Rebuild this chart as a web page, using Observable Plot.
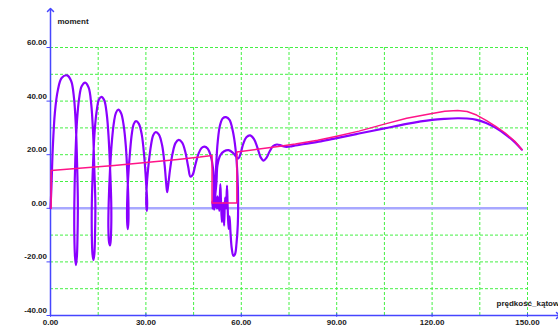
<!DOCTYPE html>
<html><head><meta charset="utf-8">
<script src="https://cdn.jsdelivr.net/npm/d3@7"></script>
<script src="https://cdn.jsdelivr.net/npm/@observablehq/plot@0.6"></script>
<style>body{margin:0;background:#fff}</style>
</head><body><div id="chart"></div>
<script>
// tick values
const xTicks = [0, 30, 60, 90, 120, 150];
const yTicks = [-40, -20, 0, 20, 40, 60];
const gridX = [15, 30, 45, 60, 75, 90, 105, 120, 135, 150];
const gridY = [-30, -20, -10, 10, 20, 30, 40, 50, 60];

// dynamic torque-speed trajectory (purple)
const purpleX = [0,0.3,0.7,1.4,2.3,3.5,5.2,6.5,7.4,8.0,8.4,8.6,8.5,8.3,8.0,7.7,7.5,7.5,7.8,8.3,9.0,9.8,10.9,
12.0,12.8,13.4,13.8,14.1,14.0,13.8,13.5,13.2,13.0,13.0,13.4,13.9,14.6,15.2,16.0,
16.9,17.7,18.3,18.8,19.1,19.1,18.9,18.7,18.4,18.2,18.3,18.7,19.3,20.0,20.6,21.3,
22.2,23.0,23.7,24.2,24.5,24.5,24.3,24.1,24.1,24.4,25.0,25.6,26.2,26.9,
27.8,28.7,29.5,30.1,30.4,30.3,30.1,30.3,30.9,31.6,32.3,33.1,
34.1,35.1,35.9,36.4,36.7,37.0,37.6,38.4,39.3,40.3,
41.4,42.4,43.3,44.0,44.7,45.6,46.6,47.5,48.4,49.4,50.4,51.1,51.4,51.2,
51.0,51.3,51.5,51.8,51.9,52.1,52.6,53.3,54.2,55.2,56.3,57.3,58.2,58.8,59.0,58.9,58.5,58.0,57.5,57.0,56.6,56.3,
56.0,55.7,55.5,55.2,54.9,54.6,54.3,53.9,53.6,53.4,53.1,52.9,52.7,52.5,52.3,52.1,51.9,51.7,51.5,51.3,51.1,50.9,51.2,51.8,52.2,
52.5,53.4,54.6,56.0,57.3,58.4,59.1,59.8,60.6,61.6,62.8,64.0,65.1,66.1,67.0,67.9,68.9,70.0,71.2,72.6,74.2,76.0,
80,85,90,97,105,112,120,124,128,131,134,137,140,143,146,148.2];
const purpleY = [0,8,22,36,44,48.6,49.6,47.5,41,30,15,2,-10,-18,-21.2,-18,-10,2,18,32,41,45.5,46.9,
45,39,28,14,2,-10,-17,-19.3,-17,-10,2,17,29,37,40.5,41.6,
40.3,35,26,13,2,-7,-12.5,-13.8,-12.5,-7,2,14,25,32.5,35.7,36.8,
35.5,31,23,12,2,-5,-7.8,-5,2,11,21,28,31.5,32.5,
31.5,27.5,19,9,2,-1.0,2,9,17,23.5,27.3,28.4,
27.5,23.5,16,9,6.0,8.5,14.5,20.5,24.3,25.5,
24.5,21,15.5,11.8,12.5,16.5,20.5,22.5,23.0,22.3,19.5,15,8,2,
0,3,-0.5,4,8,16,25,31,33.6,34.0,33,29,22,12,2,-6,-13,-17.2,-17.7,-15,-9,-3,
-7.7,1,8.5,0,4,-6.5,2,-5.2,3,9,-1,4,0,4.5,0,4,0.5,3.5,0,3,0,2.5,1,5,10,
16,19.8,21.3,21.7,20.8,19.2,18.6,20.5,24,26.5,27.2,25.8,22.5,19,17.8,18.8,21.2,23.2,23.8,23.4,22.9,23.2,
24.0,25.0,26.2,27.9,29.8,31.5,33.0,33.4,33.6,33.5,33.0,31.8,30.0,27.6,24.7,21.9];

// static characteristic (pink)
const pinkX = [0.2,0.2,10,20,30,40,47,50.8,50.8,58.6,58.6,65,71.6,77,84,90,97,105,112,120,124,128,131,134,137,140,143,146,148.2];
const pinkY = [0,14.1,15.0,16.0,17.1,18.2,19.1,19.7,2.0,2.0,21.0,22.0,23.1,24.0,25.4,26.9,28.8,31.4,33.6,35.4,36.2,36.5,36.1,34.8,32.8,30.6,28.1,25.0,21.9];

const purple = purpleX.map((x, i) => ({x, y: purpleY[i]}));
const pink = pinkX.map((x, i) => ({x, y: pinkY[i]}));

const axisColor = "#4646ff";
const gridColor = "#44f044";
const font = "'Liberation Sans', Arial, sans-serif";
const txt = {fontSize: 8, fontWeight: "bold", fill: "#1a1a1a", fontFamily: font};

const chart = Plot.plot({
  width: 558, height: 331,
  marginLeft: 50, marginRight: 31, marginTop: 47, marginBottom: 16,
  style: {background: "white", fontFamily: font},
  x: {domain: [0, 150], axis: null},
  y: {domain: [-40, 60], axis: null},
  marks: [
    Plot.ruleY(gridY, {x1: 0, x2: 150, stroke: gridColor, strokeDasharray: "3,2", strokeWidth: 1}),
    Plot.ruleX(gridX, {y1: -40, y2: 60, stroke: gridColor, strokeDasharray: "3,2", strokeWidth: 1}),
    Plot.ruleY([0], {x1: 0, x2: 150, stroke: "#a8a8ff", strokeWidth: 2.5}),
    Plot.link([{x1: 0, y1: -40, x2: 159.6, y2: -40}], {x1: "x1", y1: "y1", x2: "x2", y2: "y2", stroke: axisColor, strokeWidth: 1.5, markerEnd: "arrow"}),
    Plot.link([{x1: 0, y1: -40, x2: 0, y2: 74}], {x1: "x1", y1: "y1", x2: "x2", y2: "y2", stroke: axisColor, strokeWidth: 1.5, markerEnd: "arrow"}),
    Plot.ruleY(yTicks, {x1: -1.1, x2: 0, stroke: axisColor}),
    Plot.ruleX(xTicks, {y1: -39.3, y2: -40.7, stroke: axisColor}),
    Plot.text(yTicks, {x: 0, y: d => d, text: d => d.toFixed(2), textAnchor: "end", dx: -3.5, dy: -5, ...txt}),
    Plot.text(xTicks, {x: d => d, y: -40, text: d => d.toFixed(2), dy: 7, ...txt}),
    Plot.line(purple, {x: "x", y: "y", stroke: "#8a00ff", strokeWidth: 2.2, curve: "catmull-rom"}),
    Plot.line(pink, {x: "x", y: "y", stroke: "#ff1488", strokeWidth: 1.5}),
    Plot.text(["moment"], {frameAnchor: "top-left", dx: 7, dy: -29, textAnchor: "start", ...txt}),
    Plot.text(["prędkość_kątow"], {frameAnchor: "bottom-right", dx: -31, dy: -10, textAnchor: "start", ...txt})
  ]
});
document.getElementById("chart").appendChild(chart);
</script>
</body></html>
